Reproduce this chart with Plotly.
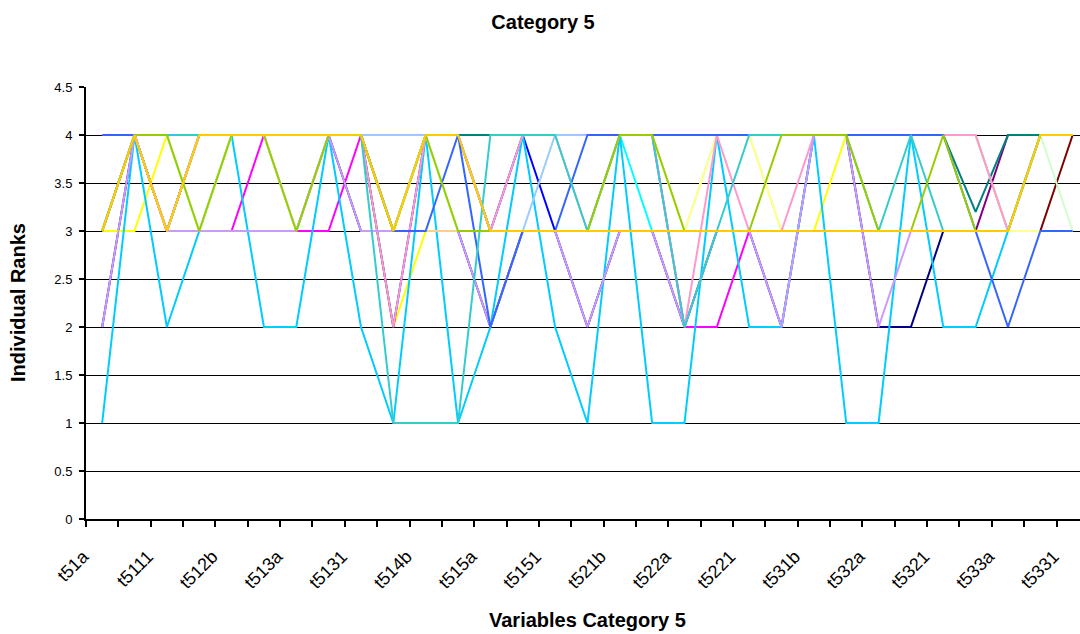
import plotly.graph_objects as go

categories = ["t51a","t51b","t5111","t512a","t512b","t5121","t513a","t513b","t5131","t514a",
              "t514b","t5141","t515a","t515b","t5151","t521a","t521b","t5211","t522a","t522b",
              "t5221","t531a","t531b","t5311","t532a","t532b","t5321","t5322","t533a","t533b","t5331"]

# series in Excel drawing order (later ones on top)
navy        = [2,4,3,3,3,3,3,4,3,3, 3,3,2,3,3,2,3,3,2,3, 3,2,4,4,2,2,3,3,3,3, 3]
magenta     = [3,4,3,3,3,4,3,3,4,4, 4,4,4,4,4,4,4,4,2,2, 3,3,3,3,3,3,3,3,3,3, 3]
yellow      = [3,3,4,4,4,4,4,4,4,2, 3,3,3,3,3,3,3,3,3,4, 4,3,3,4,4,4,4,4,3,3, 3]
turquoise   = [3,4,4,3,4,4,3,4,4,3, 4,3,3,3,3,3,4,3,3,3, 3,3,3,3,3,3,3,3,3,4, 4]
violet      = [3,4,3,4,4,4,4,4,4,3, 4,4,3,3,3,3,3,3,3,3, 3,3,3,3,3,3,3,3,4,4, 4]
dark_red    = [3,4,3,4,4,4,4,4,4,3, 4,4,3,3,3,3,3,3,3,3, 3,3,3,3,3,3,3,3,3,3, 4]
teal        = [3,4,3,4,4,4,4,4,4,3, 4,4,4,4,4,4,4,4,4,4, 4,4,4,4,4,4,4,3.2,4,4, 4]
blue        = [3,4,3,4,4,4,4,4,4,2, 4,4,3,4,3,3,3,3,3,3, 3,3,3,3,3,3,3,3,3,4, 4]
sky_blue    = [1,4,2,3,4,2,2,4,2,1, 4,1,2,4,2,1,4,1,1,4, 2,2,4,1,1,4,2,2,3,3, 3]
light_turq  = [3,4,3,4,4,4,4,4,4,3, 4,4,3,3,3,3,3,3,3,3, 3,3,3,3,3,3,3,3,3,4, 4]
light_green = [3,4,4,3,4,4,3,4,4,3, 4,3,3,3,3,3,4,4,3,4, 4,3,3,3,3,3,3,3,3,4, 3]
light_yellow= [3,4,4,3,4,4,3,4,4,3, 4,3,3,3,3,3,4,4,3,4, 4,3,3,3,3,3,3,3,3,3, 3]
pale_blue   = [4,4,4,4,4,4,4,4,4,4, 4,4,3,3,4,4,4,4,4,4, 4,4,4,4,4,4,4,4,3,4, 4]
rose        = [3,4,3,4,4,4,4,4,4,2, 4,4,3,4,4,3,4,4,2,4, 3,3,4,4,4,4,4,4,3,4, 4]
lavender    = [2,4,3,3,3,3,3,4,3,3, 3,3,2,3,3,2,3,3,2,3, 3,2,4,4,2,3,3,3,3,4, 4]
tan         = [3,4,3,4,4,4,4,4,4,3, 3,3,3,3,3,3,3,3,3,3, 3,3,3,3,3,3,3,3,3,4, 4]
blue2       = [4,4,4,4,4,4,4,4,4,3, 3,4,2,3,3,4,4,4,4,4, 4,4,4,4,4,4,4,3,2,3, 3]
aqua        = [3,4,4,4,4,4,4,4,4,1, 1,1,4,4,4,3,4,4,2,3, 4,4,4,4,3,4,3,3,3,4, 4]
lime        = [3,4,4,3,4,4,3,4,4,3, 4,3,3,3,3,3,4,4,3,3, 3,4,4,4,3,3,4,3,3,4, 4]
gold        = [3,4,3,4,4,4,4,4,4,3, 4,4,3,3,3,3,3,3,3,3, 3,3,3,3,3,3,3,3,3,4, 4]

series = [
    ("Series1", navy, "#000080"), ("Series2", magenta, "#FF00FF"), ("Series3", yellow, "#FFFF00"),
    ("Series4", turquoise, "#00FFFF"), ("Series5", violet, "#800080"), ("Series6", dark_red, "#800000"),
    ("Series7", teal, "#008080"), ("Series8", blue, "#0000FF"), ("Series9", sky_blue, "#00CCFF"),
    ("Series10", light_turq, "#CCFFFF"), ("Series11", light_green, "#CCFFCC"),
    ("Series12", light_yellow, "#FFFF99"), ("Series13", pale_blue, "#99CCFF"),
    ("Series14", rose, "#FF99CC"), ("Series15", lavender, "#CC99FF"), ("Series16", tan, "#FFCC99"),
    ("Series17", blue2, "#3366FF"), ("Series18", aqua, "#33CCCC"), ("Series19", lime, "#99CC00"),
    ("Series20", gold, "#FFCC00"),
]

FONT = "Liberation Sans, Arial, sans-serif"
xs = list(range(len(categories)))

fig = go.Figure()
for name, vals, col in series:
    fig.add_trace(go.Scatter(x=xs, y=vals, mode="lines", name=name,
                             line=dict(color=col, width=2), showlegend=False,
                             hoverinfo="skip"))

step = 32.35  # px per category
plot_left = 86
fig_w = 1080
x_max = -0.5 + (fig_w - plot_left) / step

fig.update_layout(
    width=1080, height=634,
    margin=dict(l=plot_left, r=0, t=87, b=115),
    paper_bgcolor="white", plot_bgcolor="white",
    font=dict(family=FONT, color="black"),
    title=dict(text="<b>Category 5</b>", x=543/1080, xref="container", xanchor="center",
               y=1-22/634, yref="container", yanchor="middle", font=dict(size=20, family=FONT)),
    showlegend=False,
)
fig.update_xaxes(
    range=[-0.5, x_max], showgrid=False, zeroline=False,
    showline=True, linecolor="black", linewidth=2,
    tickmode="array", tickvals=xs[::2], ticktext=categories[::2],
    tickangle=-45, ticks="", tickfont=dict(size=18, family=FONT),
    ticklabelshift=-19, ticklabelstandoff=18,
    minor=dict(tickmode="array", tickvals=[k - 0.5 for k in range(len(categories) + 1)],
               ticks="outside", ticklen=6, tickcolor="black", tickwidth=1.5, showgrid=False),
)
fig.update_yaxes(
    range=[0, 4.5], dtick=0.5, tick0=0,
    showgrid=True, gridcolor="black", gridwidth=1,
    zeroline=False, showline=True, linecolor="black", linewidth=2,
    ticks="outside", ticklen=5, tickcolor="black", tickwidth=1.5,
    tickfont=dict(size=13, family=FONT), ticklabelstandoff=4,
)
fig.add_annotation(text="<b>Individual Ranks</b>", xref="paper", yref="paper",
                   x=(18 - plot_left) / (fig_w - plot_left), y=0.5, textangle=-90,
                   xanchor="center", yanchor="middle",
                   showarrow=False, font=dict(size=20, family=FONT))
fig.add_annotation(text="<b>Variables Category 5</b>", xref="paper", yref="paper",
                   x=(587 - plot_left) / (fig_w - plot_left), y=(519 - 620) / 432,
                   xanchor="center", yanchor="middle",
                   showarrow=False, font=dict(size=20, family=FONT))

fig.write_html("out.html")
